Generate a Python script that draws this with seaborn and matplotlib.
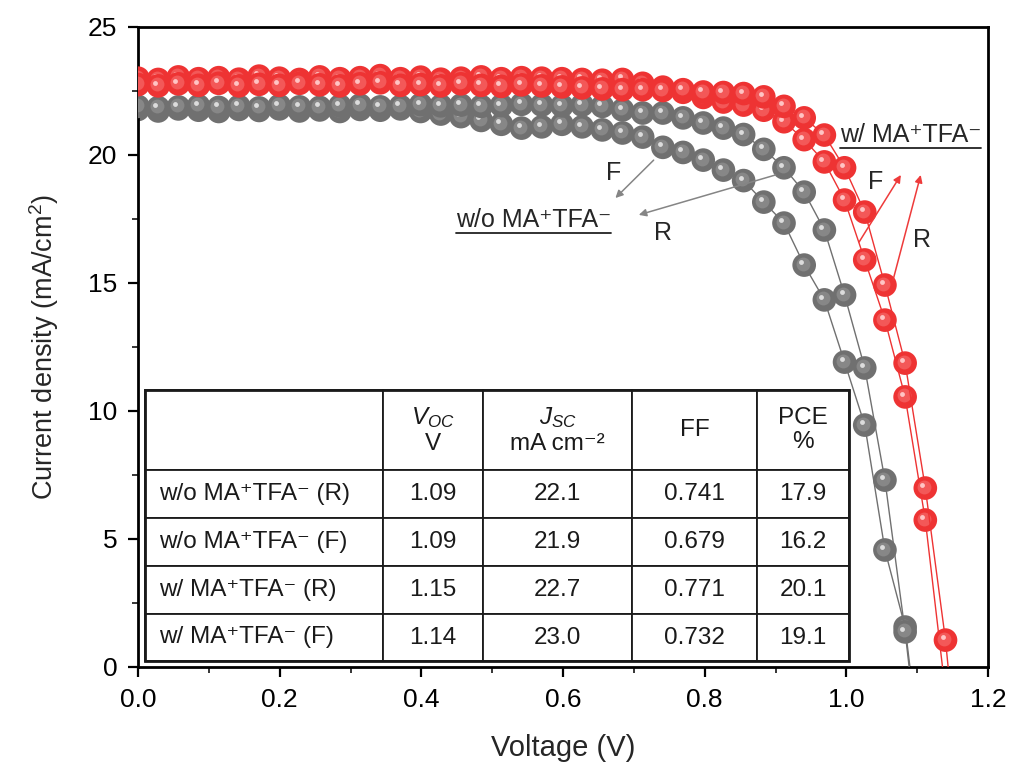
import numpy as np
import pandas as pd
import matplotlib
matplotlib.use("Agg")
import matplotlib.pyplot as plt
import matplotlib.transforms as mtransforms
from matplotlib.ticker import MultipleLocator
from matplotlib.patches import Rectangle
import seaborn as sns

# ---------------- data ----------------
voltage = [0.0, 0.0285, 0.057, 0.0855, 0.114, 0.1425, 0.171, 0.1995, 0.228, 0.2565,
           0.285, 0.3135, 0.342, 0.3705, 0.399, 0.4275, 0.456, 0.4845, 0.513, 0.5415,
           0.57, 0.5985, 0.627, 0.6555, 0.684, 0.7125, 0.741, 0.7695, 0.798, 0.8265,
           0.855, 0.8835, 0.912, 0.9405, 0.969, 0.9975, 1.026, 1.0545, 1.083, 1.1115,
           1.14, 1.1685]

wo_R = [21.90, 21.85, 21.88, 21.92, 21.86, 21.90, 21.84, 21.93, 21.88, 21.86,
        21.92, 21.95, 21.88, 21.90, 21.97, 21.92, 21.95, 21.90, 21.93, 21.98,
        21.95, 21.92, 21.95, 21.90, 21.76, 21.64, 21.64, 21.45, 21.25, 21.05,
        20.80, 20.22, 19.50, 18.55, 17.07, 14.53, 11.68, 7.30, 1.37, -5.5]

wo_F = [21.78, 21.72, 21.80, 21.75, 21.70, 21.78, 21.74, 21.80, 21.72, 21.76,
        21.70, 21.78, 21.75, 21.80, 21.70, 21.60, 21.50, 21.35, 21.20, 21.05,
        21.10, 21.20, 21.10, 20.98, 20.86, 20.70, 20.30, 20.10, 19.80, 19.41,
        19.00, 18.16, 17.34, 15.70, 14.34, 11.91, 9.45, 4.57, 1.56, -5.0]

w_R = [22.75, 22.70, 22.78, 22.72, 22.80, 22.70, 22.76, 22.72, 22.80, 22.74,
       22.70, 22.78, 22.82, 22.72, 22.75, 22.70, 22.78, 22.72, 22.68, 22.74,
       22.70, 22.66, 22.62, 22.58, 22.55, 22.55, 22.52, 22.55, 22.46, 22.44,
       22.40, 22.27, 21.90, 21.45, 20.78, 19.50, 17.77, 14.92, 11.87, 6.99,
       1.05, -7.0]

w_F = [23.00, 22.95, 23.05, 22.98, 23.02, 22.96, 23.08, 23.00, 22.95, 23.05,
       22.98, 23.02, 23.10, 22.98, 23.04, 22.96, 23.00, 23.05, 22.98, 23.02,
       23.00, 22.98, 22.95, 22.92, 22.95, 22.80, 22.65, 22.45, 22.25, 22.07,
       21.95, 21.75, 21.30, 20.60, 19.73, 18.24, 15.90, 13.55, 10.55, 5.74,
       -1.0, -8.0]

row_names = ["w/o MA\u207aTFA\u207b (R)", "w/o MA\u207aTFA\u207b (F)",
             "w/ MA\u207aTFA\u207b (R)", "w/ MA\u207aTFA\u207b (F)"]
col_headers = ["", "$V_{OC}$\nV", "$J_{SC}$\nmA cm\u207b\u00b2", "FF", "PCE\n%"]
voc = ["1.09", "1.09", "1.15", "1.14"]
jsc = ["22.1", "21.9", "22.7", "23.0"]
ff = ["0.741", "0.679", "0.771", "0.732"]
pce = ["17.9", "16.2", "20.1", "19.1"]

# ---------------- style ----------------
sns.set_style("ticks")
plt.rcParams['font.family'] = ['Liberation Sans', 'DejaVu Sans']
plt.rcParams['mathtext.fontset'] = 'custom'
plt.rcParams['mathtext.rm'] = 'Liberation Sans'
plt.rcParams['mathtext.it'] = 'Liberation Sans:italic'
plt.rcParams['mathtext.bf'] = 'Liberation Sans:bold'
plt.rcParams['mathtext.default'] = 'it'

W, H = 1009, 767
fig = plt.figure(figsize=(W / 100, H / 100), dpi=100)
ax = fig.add_axes([138 / W, 100 / H, 850 / W, 640 / H])

GRAY = "#707070"
GRAY_MID = "#878787"
GRAY_HI = "#dcdcdc"
RED = "#ee3333"
RED_MID = "#f35858"
RED_HI = "#ffc4c4"

series = [
    (wo_F, GRAY, GRAY_MID, GRAY_HI),
    (wo_R, GRAY, GRAY_MID, GRAY_HI),
    (w_F, RED, RED_MID, RED_HI),
    (w_R, RED, RED_MID, RED_HI),
]

off_mid = ax.transData + mtransforms.ScaledTranslation(-1.5 / 100, 1.5 / 100, fig.dpi_scale_trans)
off_hi = ax.transData + mtransforms.ScaledTranslation(-3 / 100, 3 / 100, fig.dpi_scale_trans)

z = 2
for J, base, mid, hi in series:
    n = len(J)
    df = pd.DataFrame({"V": voltage[:n], "J": J})
    sns.lineplot(data=df, x="V", y="J", sort=False, estimator=None, color=base,
                 lw=1.0, ax=ax, zorder=z)
    sns.scatterplot(data=df, x="V", y="J", s=290, color=base, edgecolor="none",
                    linewidth=0, ax=ax, zorder=z + 0.1)
    ax.plot(df["V"], df["J"], "o", ms=10, color=mid, mec="none", transform=off_mid,
            zorder=z + 0.2)
    ax.plot(df["V"], df["J"], "o", ms=3.5, color=hi, mec="none", transform=off_hi,
            zorder=z + 0.3)
    z += 1

ax.set_xlim(0, 1.2)
ax.set_ylim(0, 25)
ax.xaxis.set_major_locator(MultipleLocator(0.2))
ax.xaxis.set_minor_locator(MultipleLocator(0.1))
ax.yaxis.set_major_locator(MultipleLocator(5))
ax.yaxis.set_minor_locator(MultipleLocator(2.5))
ax.xaxis.set_major_formatter(matplotlib.ticker.FormatStrFormatter("%.1f"))
ax.tick_params(which="major", direction="out", length=7, width=1.6, labelsize=19,
               top=False, right=False, colors="black")
ax.tick_params(which="minor", direction="out", length=4, width=1.3, top=False, right=False)
ax.tick_params(axis="y", pad=8)
ax.tick_params(axis="x", pad=8)
for sp in ax.spines.values():
    sp.set_linewidth(2.0)
    sp.set_color("black")
    sp.set_visible(True)

ax.set_xlabel("Voltage (V)", fontsize=21, labelpad=16)
ax.set_ylabel("Current density (mA/cm$^{\\mathrm{2}}$)", fontsize=19.5, labelpad=19)

# ---------------- annotations ----------------
arrow_gray = dict(arrowstyle="-|>", color="#858585", lw=1.1, mutation_scale=11, shrinkA=0, shrinkB=0)
arrow_red = dict(arrowstyle="-|>", color="#ee3b3b", lw=1.1, mutation_scale=11, shrinkA=0, shrinkB=0)
ax.annotate("", xy=(0.674, 18.32), xytext=(0.728, 19.80), arrowprops=arrow_gray, zorder=8)
ax.annotate("", xy=(0.707, 17.66), xytext=(0.900, 19.22), arrowprops=arrow_gray, zorder=8)
ax.annotate("", xy=(1.077, 19.22), xytext=(1.018, 16.60), arrowprops=arrow_red, zorder=8)
ax.annotate("", xy=(1.105, 19.22), xytext=(1.066, 15.12), arrowprops=arrow_red, zorder=8)

tfs = 18
ax.text(0.672, 19.3, "F", fontsize=tfs, ha="center", va="center", zorder=9)
ax.text(0.741, 16.95, "R", fontsize=tfs, ha="center", va="center", zorder=9)
ax.text(1.042, 18.95, "F", fontsize=tfs, ha="center", va="center", zorder=9)
ax.text(1.107, 16.68, "R", fontsize=tfs, ha="center", va="center", zorder=9)

t1 = ax.text(0.558, 17.45, "w/o MA\u207aTFA\u207b", fontsize=tfs, ha="center",
             va="center", zorder=9)
t2 = ax.text(1.091, 20.80, "w/ MA\u207aTFA\u207b", fontsize=tfs, ha="center",
             va="center", zorder=9)

# ---------------- table ----------------
cell_text = [col_headers] + [[row_names[i], voc[i], jsc[i], ff[i], pce[i]] for i in range(4)]
colw = np.array([238, 100, 149, 125, 92], dtype=float)
colw = colw / colw.sum()
x0 = (145 - 138) / 850
x1 = (849 - 138) / 850
ytop = (667 - 390) / 640
ybot = (667 - 661) / 640
tbl = ax.table(cellText=cell_text, colWidths=list(colw), cellLoc="center",
               bbox=[x0, ybot, x1 - x0, ytop - ybot], zorder=10)
tbl.auto_set_font_size(False)
tbl.set_fontsize(17.5)
row_h = [80, 48, 48, 48, 47]
for (r, c), cell in tbl.get_celld().items():
    cell.set_height(row_h[r])
    cell.set_linewidth(1.3)
    cell.set_edgecolor("#1a1a1a")
    cell.set_facecolor("white")
    cell.get_text().set_fontsize(17.5)
    cell.get_text().set_color("#1a1a1a")
    if r == 0:
        cell.get_text().set_linespacing(1.15)
    if c == 0 and r > 0:
        cell._loc = "left"
        cell.PAD = 0.06
        cell.get_text().set_ha("left")
ax.add_patch(Rectangle((x0, ybot), x1 - x0, ytop - ybot, transform=ax.transAxes,
                       fill=False, lw=2.0, ec="#1a1a1a", zorder=11, clip_on=False))

# underlines below the two labels
fig.canvas.draw()
inv = fig.transFigure.inverted()
for t in (t1, t2):
    bb = t.get_window_extent()
    (fx0, fy0) = inv.transform((bb.x0, bb.y0 - 1))
    (fx1, _) = inv.transform((bb.x1, bb.y0 - 1))
    fig.add_artist(plt.Line2D([fx0, fx1], [fy0, fy0], transform=fig.transFigure,
                              color="#222222", lw=1.3))

fig.savefig("out.png", dpi=100)
